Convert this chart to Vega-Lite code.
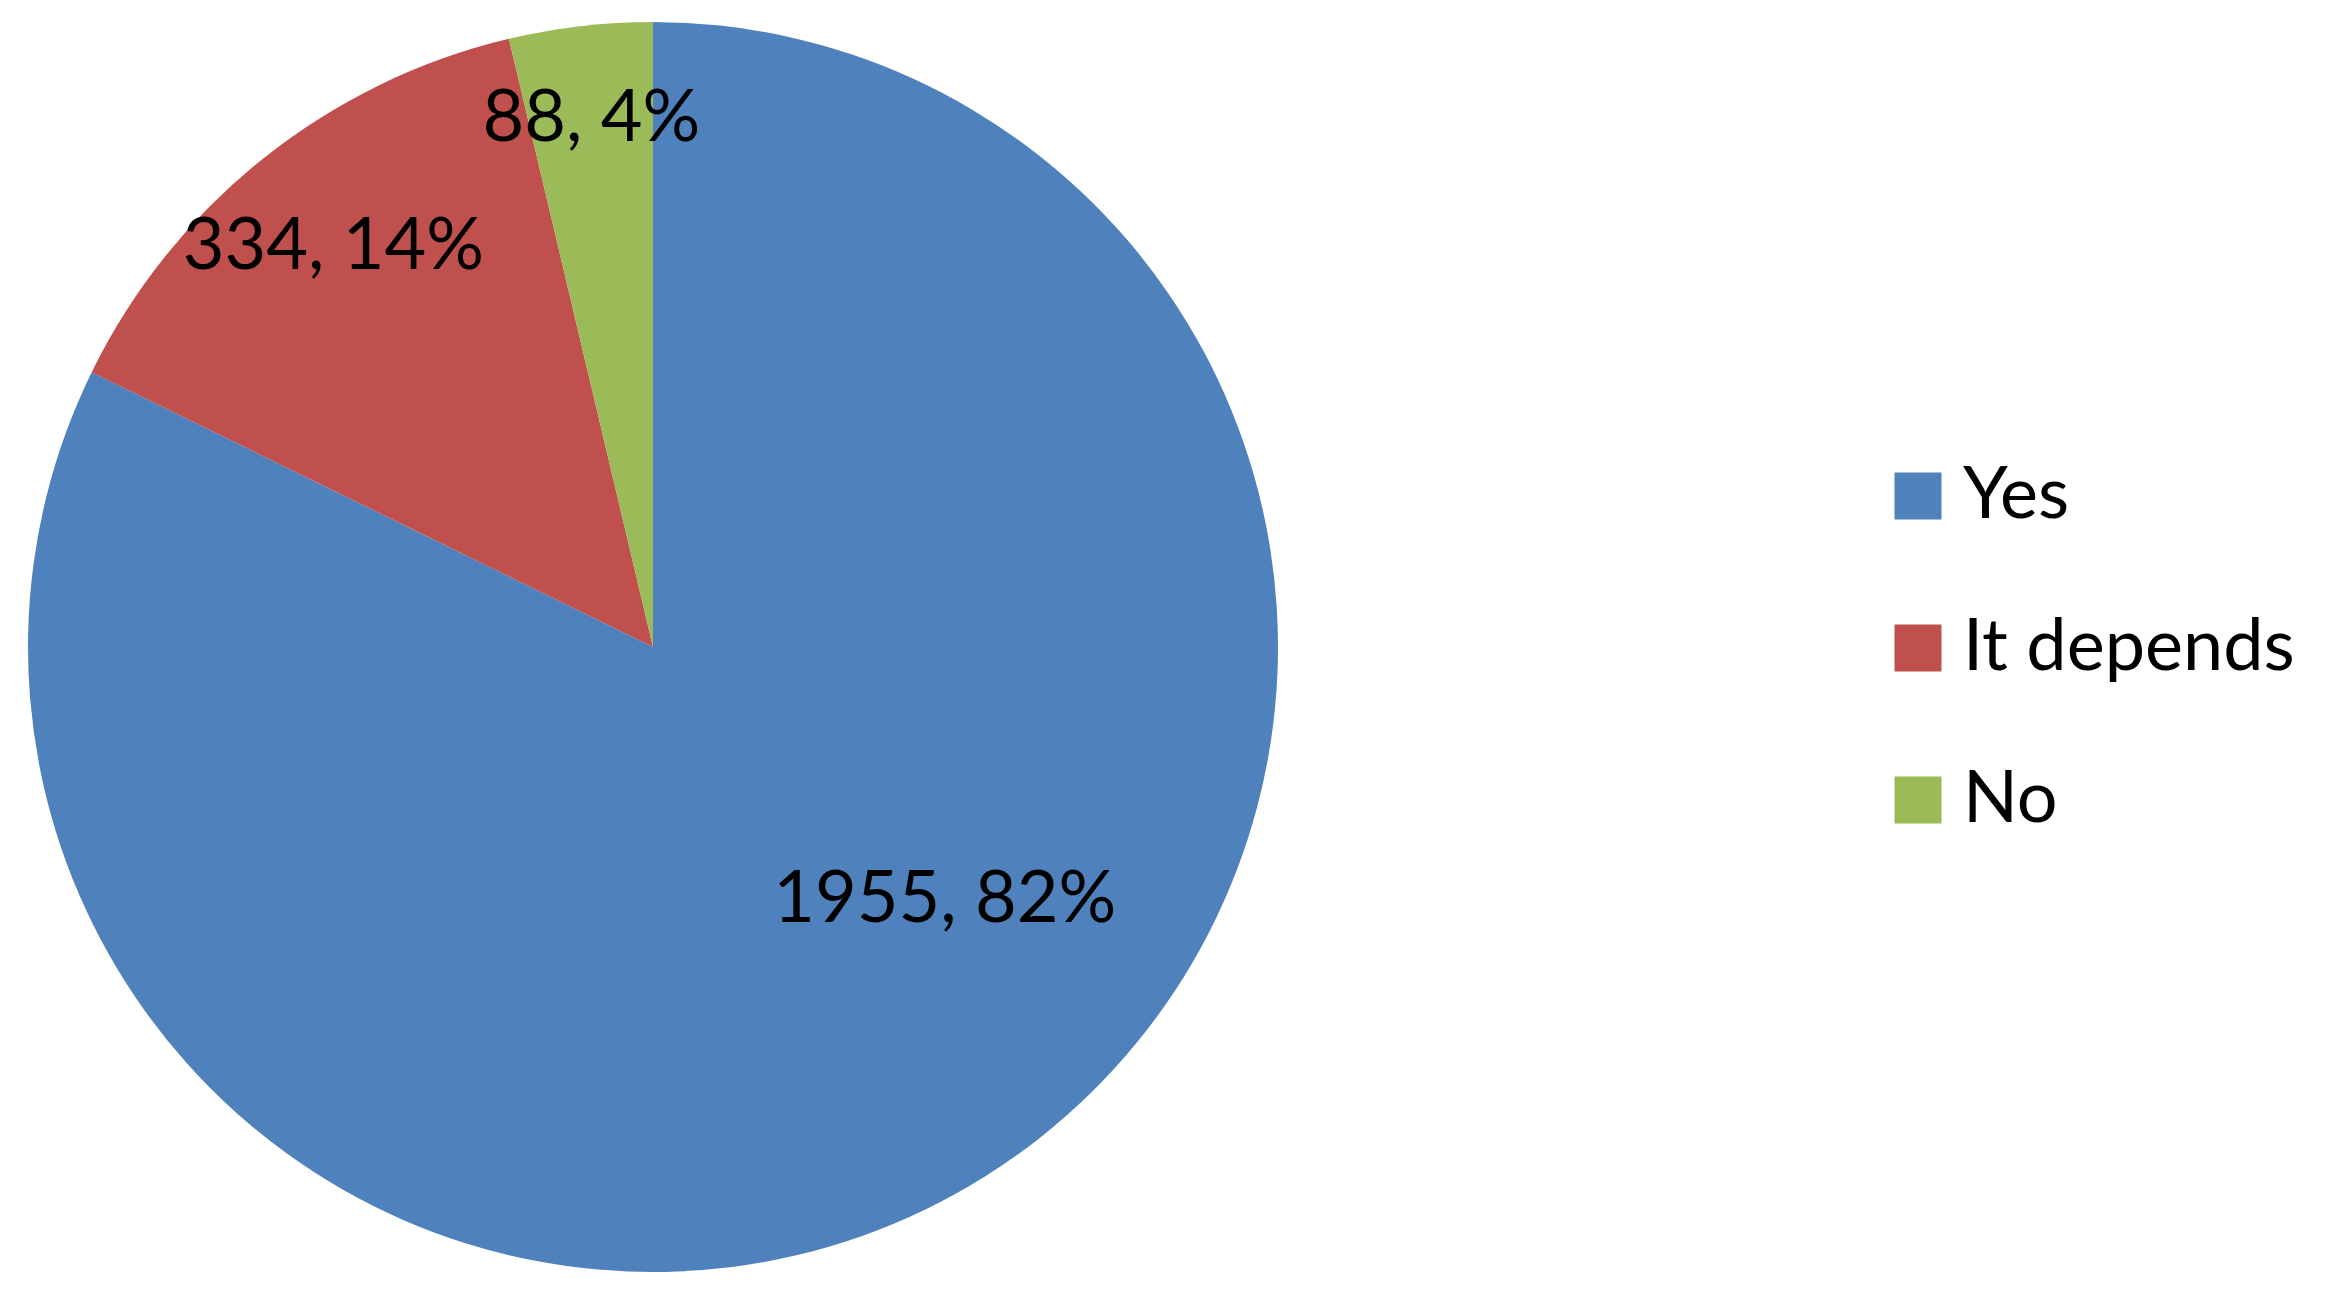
{
  "$schema": "https://vega.github.io/schema/vega-lite/v6.json",
  "width": 1306,
  "height": 1294,
  "padding": 0,
  "autosize": {"type": "pad"},
  "background": "white",
  "config": {"view": {"stroke": null}, "font": "Lato"},
  "data": {
    "values": [
      {"answer": "Yes", "count": 1955, "rank": 1, "label": "1955, 82%"},
      {"answer": "It depends", "count": 334, "rank": 2, "label": "334, 14%"},
      {"answer": "No", "count": 88, "rank": 3, "label": "88, 4%"}
    ]
  },
  "encoding": {
    "theta": {"field": "count", "type": "quantitative", "stack": true},
    "order": {"field": "rank", "type": "quantitative"}
  },
  "layer": [
    {
      "mark": {"type": "arc", "radius": 625},
      "encoding": {
        "color": {
          "field": "answer",
          "type": "nominal",
          "scale": {"domain": ["Yes", "It depends", "No"], "range": ["#4F81BD", "#C0504D", "#9BBB59"]},
          "legend": {
            "title": null,
            "orient": "none",
            "legendX": 1882,
            "legendY": 460,
            "symbolType": "square",
            "symbolSize": 2209,
            "symbolStrokeWidth": 0,
            "labelFontSize": 72,
            "labelFont": "Lato",
            "labelColor": "black",
            "labelOffset": 9,
            "labelLimit": 800,
            "rowPadding": 80,
            "padding": 0
          }
        }
      }
    },
    {
      "mark": {"type": "text", "radius": 532, "fontSize": 72, "font": "Lato", "color": "black", "baseline": "middle", "align": "center"},
      "encoding": {"text": {"condition": {"test": "datum.answer == 'No'", "field": "label"}, "value": ""}}
    },
    {
      "mark": {"type": "text", "radius": 512, "fontSize": 72, "font": "Lato", "color": "black", "baseline": "middle", "align": "center"},
      "encoding": {"text": {"condition": {"test": "datum.answer == 'It depends'", "field": "label"}, "value": ""}}
    },
    {
      "mark": {"type": "text", "radius": 385, "dx": 88, "dy": -74, "fontSize": 72, "font": "Lato", "color": "black", "baseline": "middle", "align": "center"},
      "encoding": {"text": {"condition": {"test": "datum.answer == 'Yes'", "field": "label"}, "value": ""}}
    }
  ]
}
